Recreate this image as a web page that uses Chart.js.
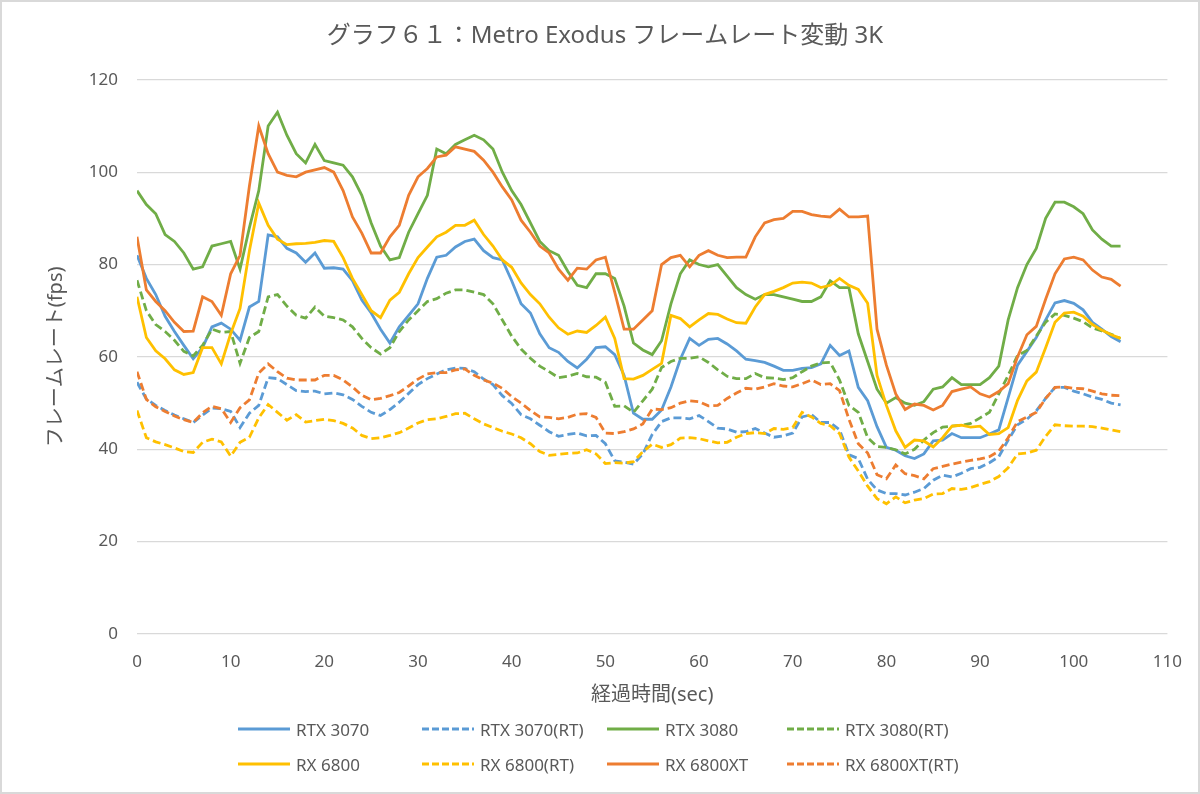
<!DOCTYPE html>
<html>
<head>
<meta charset="utf-8">
<script src="https://cdn.jsdelivr.net/npm/chart.js@4.4.0/dist/chart.umd.min.js"></script>
<style>
  html, body { margin: 0; padding: 0; background: #fff; }
  #wrap { position: relative; width: 1200px; height: 794px; overflow: hidden; }
  #frame { position: absolute; left: 0; top: 0; width: 1200px; height: 794px; box-sizing: border-box; border: 2px solid #d9d9d9; pointer-events: none; }
  canvas { position: absolute; left: 0; top: 0; }
  #legend { position: absolute; left: 0; top: 0; font-family: "Noto Sans", "Noto Sans CJK JP", sans-serif; font-size: 17px; color: #595959; }
  .item { position: absolute; display: flex; align-items: center; height: 24px; white-space: nowrap; }
  .item svg { margin-right: 6px; }
</style>
</head>
<body>
<div id="wrap">
  <canvas id="fpsChart" width="1200" height="794"></canvas>
  <div id="legend"></div>
  <div id="frame"></div>
</div>
<script>
// 経過時間 (sec)
const timeSec = [
  0, 1, 2, 3, 4, 5, 6, 7, 8, 9,
  10, 11, 12, 13, 14, 15, 16, 17, 18, 19,
  20, 21, 22, 23, 24, 25, 26, 27, 28, 29,
  30, 31, 32, 33, 34, 35, 36, 37, 38, 39,
  40, 41, 42, 43, 44, 45, 46, 47, 48, 49,
  50, 51, 52, 53, 54, 55, 56, 57, 58, 59,
  60, 61, 62, 63, 64, 65, 66, 67, 68, 69,
  70, 71, 72, 73, 74, 75, 76, 77, 78, 79,
  80, 81, 82, 83, 84, 85, 86, 87, 88, 89,
  90, 91, 92, 93, 94, 95, 96, 97, 98, 99,
  100, 101, 102, 103, 104, 105
];

const rtx3070 = [
  82, 77, 73.5, 68.8, 65.5, 62.5, 59.6, 62, 66.5, 67.3,
  66, 63.6, 70.8, 72, 86.4, 86, 83.5, 82.5, 80.5, 82.5,
  79.2, 79.3, 79, 76.5, 72.3, 69.5, 66, 63, 66.5, 69,
  71.5, 77, 81.6, 82, 83.8, 85, 85.5, 83, 81.5, 81,
  76.5, 71.5, 69.5, 65, 62, 61, 59, 57.6, 59.5, 62,
  62.2, 60.5, 56, 47.8, 46.5, 46.5, 48.5, 53.5, 59.5, 64,
  62.5, 63.8, 64, 62.8, 61.3, 59.5, 59.2, 58.8, 58, 57.1,
  57.1, 57.5, 57.7, 58.5, 62.5, 60.3, 61.3, 53.4, 50.5, 44.9,
  40.4, 39.8, 38.6, 38, 39, 41.8, 42, 43.4, 42.5, 42.5,
  42.5, 43.3, 44.2, 51.2, 58.2, 61.2, 64.2, 68, 71.7, 72.2,
  71.6, 70.2, 67.5, 66, 64.4, 63.3
];

const rtx3070rt = [
  54.5, 50.9, 49.5, 48.4, 47.4, 46.6, 45.8, 47.4, 48.9, 48.8,
  48.2, 44.7, 47.8, 49.5, 55.5, 55.3, 54, 52.7, 52.5, 52.6,
  52, 52.2, 51.8, 50.8, 49.3, 48, 47.3, 48.6, 50.2, 52.1,
  54, 55.3, 56.3, 57.2, 57.6, 57.5, 56.8, 55.2, 54, 51.6,
  49.9, 47.5, 46.6, 45.2, 43.8, 42.8, 43.2, 43.5, 42.9, 43,
  41.2, 37.5, 37.2, 36.8, 39, 43.2, 46, 46.8, 46.8, 46.6,
  47.3, 46, 44.6, 44.4, 43.7, 43.8, 44.5, 43.5, 42.6, 42.9,
  43.5, 47, 47.5, 45.8, 45.8, 44.2, 38.8, 38, 33.5, 31.2,
  30.4, 30.4, 30.1, 30.7, 31.5, 33.3, 34.4, 34, 34.8, 35.8,
  36.1, 37.1, 38.4, 42, 45.3, 46.5, 48.3, 51, 53.4, 53.4,
  52.6, 52, 51.3, 50.8, 50, 49.6
];

const rtx3080 = [
  96, 93, 91, 86.5, 85, 82.5, 79, 79.5, 84, 84.5,
  85, 79, 88, 96, 110, 113, 108, 104, 102, 106,
  102.5, 102, 101.5, 99, 95, 89, 84, 81, 81.5, 87,
  91, 95, 105, 104, 106, 107, 108, 107, 105, 100,
  96, 93, 89, 85, 83, 82, 78.5, 75.5, 75, 78,
  78, 77, 71, 63, 61.5, 60.5, 63.5, 71.5, 78, 81,
  80, 79.5, 80, 77.5, 75, 73.5, 72.5, 73.5, 73.5, 73,
  72.5, 72, 72, 73, 76.5, 75, 75, 65, 59, 53,
  50, 51.2, 50, 49.5, 50.3, 53, 53.5, 55.5, 54, 54,
  54, 55.5, 58, 68, 75, 80, 83.5, 90, 93.5, 93.5,
  92.5, 91, 87.5, 85.5, 84, 84
];

const rtx3080rt = [
  76.6, 70, 67, 65.5, 63.6, 61.2, 60.2, 62.5, 66, 65.3,
  65.5, 58.6, 64.2, 65.5, 73, 73.5, 71, 69, 68.4, 70.8,
  68.8, 68.5, 68, 66.5, 64, 62, 60.6, 62, 65.5, 68,
  70, 72, 72.6, 73.8, 74.5, 74.5, 74, 73.5, 71.5, 68,
  64.5, 61.7, 59.7, 58, 56.8, 55.5, 55.8, 56.4, 55.7, 55.6,
  54.5, 49.3, 49.4, 48, 50.5, 53, 57.7, 59, 59.7, 59.7,
  60, 58.8, 57.2, 55.8, 55.3, 55.3, 56.4, 55.5, 55.4, 55.1,
  55.5, 56.8, 58, 58.7, 58.8, 55, 49.5, 48, 42.5, 40.6,
  40.4, 39.9, 39, 40, 42, 43.6, 44.8, 45, 45.2, 45.6,
  46.8, 48, 52, 56, 60.3, 61.4, 64.5, 67.5, 69.3, 69,
  68.4, 67.6, 66.3, 65.6, 64.9, 64
];

const rx6800 = [
  73, 64.2, 61.3, 59.6, 57.2, 56.2, 56.6, 62, 62, 58.5,
  65, 70.5, 83, 93.3, 88.5, 85.5, 84.3, 84.5, 84.6, 84.8,
  85.2, 85, 81.5, 77, 73.5, 70, 68.5, 72.3, 74, 78,
  81.5, 83.8, 86, 87, 88.5, 88.5, 89.6, 86.5, 84, 81,
  79.4, 76, 73.5, 71.5, 68.6, 66.3, 64.9, 65.6, 65.3, 66.8,
  68.6, 64, 55.3, 55.2, 56, 57.3, 58.6, 69, 68.3, 66.5,
  68, 69.4, 69.2, 68.2, 67.4, 67.3, 70.8, 73.5, 74.2, 75,
  76, 76.2, 76, 75, 75.5, 77, 75.5, 74.6, 71.6, 56,
  49.5, 44, 40.4, 42, 41.8, 40.5, 42.5, 45, 45.2, 44.8,
  45, 43.2, 43.4, 44.7, 50.6, 54.8, 56.7, 62, 67.5, 69.5,
  69.7, 68.8, 67, 65.8, 64.8, 64
];

const rx6800rt = [
  48.4, 42.5, 41.6, 41, 40.3, 39.5, 39.3, 41.5, 42.2, 41.6,
  38.5, 41.5, 42.6, 46.8, 49.7, 48, 46.3, 47.5, 45.9, 46.2,
  46.5, 46.2, 45.6, 44.6, 43, 42.3, 42.5, 43, 43.6, 44.6,
  45.7, 46.4, 46.6, 47.1, 47.7, 47.8, 46.6, 45.5, 44.7, 43.9,
  43.3, 42.5, 41.2, 39.5, 38.7, 38.9, 39.1, 39.2, 39.9, 39,
  36.9, 37.1, 37, 37.3, 39.5, 41.1, 40.4, 41, 42.4, 42.5,
  42.3, 41.8, 41.4, 41.5, 42.6, 43.4, 43.6, 43.4, 44.5, 44.3,
  44.7, 48, 47, 45.6, 45.1, 43.4, 38.3, 35.3, 32, 29.3,
  28.2, 29.7, 28.4, 29, 29.3, 30.3, 30.4, 31.5, 31.3, 31.7,
  32.4, 33, 34.1, 36, 39, 39.2, 39.8, 42.8, 45.3, 45.1,
  45, 45, 44.9, 44.6, 44.2, 43.8
];

const rx6800xt = [
  86, 74.5, 72, 70, 67.5, 65.5, 65.6, 73, 72, 69,
  78, 82, 97, 110, 104, 100, 99.3, 99, 100, 100.5,
  101, 100, 96, 90.3, 86.8, 82.5, 82.5, 86, 88.5, 95,
  99, 100.8, 103.3, 103.7, 105.5, 105, 104.5, 102.6, 100, 96.8,
  94, 89.6, 87, 84, 82.5, 79, 76.6, 79.2, 79, 81,
  81.6, 74, 66, 66, 68, 70, 80, 81.5, 82, 79.5,
  82, 83, 82, 81.5, 81.6, 81.6, 86, 89, 89.7, 90,
  91.5, 91.5, 90.8, 90.5, 90.3, 92, 90.3, 90.3, 90.5, 66,
  58.2, 52, 48.6, 49.8, 49.5, 48.5, 49.5, 52.5, 53, 53.5,
  52, 51.3, 52.5, 54.2, 60, 64.8, 66.6, 72.5, 78, 81.2,
  81.6, 81, 78.8, 77.3, 76.8, 75.3
];

const rx6800xtrt = [
  56.8, 50.8, 49.2, 48.2, 47.2, 46.4, 45.8, 47.9, 49.3, 48.8,
  45.8, 49, 50.7, 56.5, 58.5, 56.8, 55.4, 55, 55, 55,
  56, 56, 55, 53.5, 51.7, 50.7, 51, 51.6, 52.3, 53.7,
  55.2, 56.3, 56.6, 56.6, 57.2, 57.4, 56, 55, 54.3, 53.2,
  51.4, 50, 48.4, 47, 46.9, 46.6, 46.9, 47.6, 47.7, 46.9,
  43.5, 43.4, 43.8, 44.4, 45.5, 48.7, 48.6, 49, 50, 50.5,
  50.3, 49.4, 49.5, 51, 52.2, 53.2, 53, 53.5, 54.2, 53.7,
  53.5, 54.2, 55, 54, 54.2, 52.7, 46.5, 41.2, 39.2, 34.5,
  33.6, 36.6, 34.7, 34.3, 33.6, 35.8, 36.3, 36.8, 37.2, 37.6,
  37.9, 38.4, 39.6, 42.5, 46, 47, 48, 51, 53.4, 53.5,
  53.2, 53.1, 52.6, 52, 51.7, 51.6
];

const seriesNames = ['RTX 3070', 'RTX 3070(RT)', 'RTX 3080', 'RTX 3080(RT)',
                     'RX 6800', 'RX 6800(RT)', 'RX 6800XT', 'RX 6800XT(RT)'];
const seriesData = [rtx3070, rtx3070rt, rtx3080, rtx3080rt, rx6800, rx6800rt, rx6800xt, rx6800xtrt];
const seriesColors = ['#5b9bd5', '#5b9bd5', '#70ad47', '#70ad47', '#ffc000', '#ffc000', '#ed7d31', '#ed7d31'];

const textColor = '#595959';
const fontFamily = '"Noto Sans", "Noto Sans CJK JP", sans-serif';

const datasets = seriesData.map((vals, i) => {
    const dashed = seriesNames[i].indexOf('(RT)') >= 0;
    return {
        label: seriesNames[i],
        data: vals.map((v, k) => ({ x: timeSec[k], y: v })),
        borderColor: seriesColors[i],
        backgroundColor: seriesColors[i],
        borderWidth: 2.8,
        borderDash: dashed ? [8, 4] : [],
        pointRadius: 0,
        tension: 0,
        fill: false,
        order: seriesNames.length - i   // 後のシリーズを上に描く
    };
});

const ctx = document.getElementById('fpsChart').getContext('2d');
window.fpsChartInstance = new Chart(ctx, {
    type: 'line',
    data: { datasets: datasets },
    options: {
        responsive: false,
        animation: false,
        devicePixelRatio: 1,
        layout: { padding: { left: 40, right: 30, top: 0, bottom: 83 } },
        plugins: {
            legend: { display: false },
            tooltip: { enabled: false },
            title: {
                display: true,
                text: 'グラフ６１：Metro Exodus フレームレート変動 3K',
                color: textColor,
                font: { family: fontFamily, size: 24, weight: 'normal' },
                padding: { top: 22, bottom: 29 }
            }
        },
        scales: {
            x: {
                type: 'linear',
                min: 0,
                max: 110,
                afterFit: scale => { scale.height = 77; },
                grid: { display: false, drawTicks: false },
                border: { display: false },
                ticks: { stepSize: 10, color: textColor, padding: 18, font: { family: fontFamily, size: 17 } },
                title: {
                    display: true,
                    text: '経過時間(sec)',
                    color: textColor,
                    font: { family: fontFamily, size: 20 }
                }
            },
            y: {
                min: 0,
                max: 120,
                afterFit: scale => { scale.width = 97; },
                grid: { color: '#d9d9d9', lineWidth: 1.3, drawTicks: false },
                border: { display: false },
                ticks: { stepSize: 20, color: textColor, padding: 19, font: { family: fontFamily, size: 17 } },
                title: {
                    display: true,
                    text: 'フレームレート(fps)',
                    color: textColor,
                    font: { family: fontFamily, size: 20 }
                }
            }
        }
    }
});

// 凡例 (4列×2行)
const legendCols = [238, 422, 607, 787];
const legendRows = [729, 764];
const legendEl = document.getElementById('legend');
window.fpsChartInstance.data.datasets.forEach((ds, i) => {
    const item = document.createElement('div');
    item.className = 'item';
    item.style.left = legendCols[i % 4] + 'px';
    item.style.top = (legendRows[Math.floor(i / 4)] - 12) + 'px';
    const dash = ds.borderDash.length ? ' stroke-dasharray="7 3"' : '';
    item.innerHTML = '<svg width="52" height="10"><line x1="0" y1="5" x2="52" y2="5" stroke="' +
        ds.borderColor + '" stroke-width="3"' + dash + '/></svg>';
    const span = document.createElement('span');
    span.textContent = ds.label;
    item.appendChild(span);
    legendEl.appendChild(item);
});
</script>
</body>
</html>
